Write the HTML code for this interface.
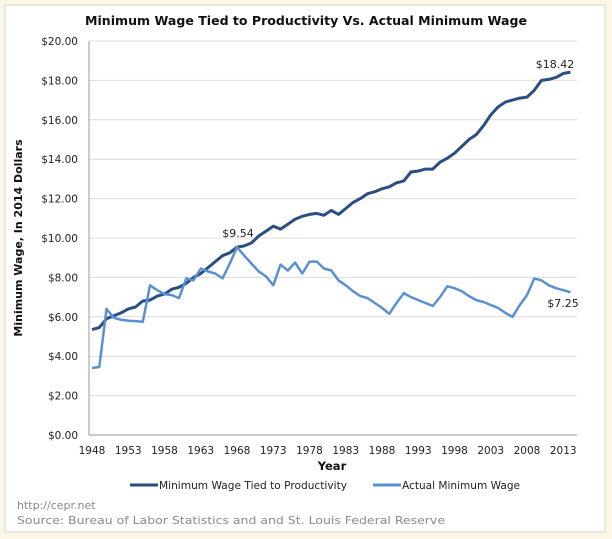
<!DOCTYPE html>
<html><head><meta charset="utf-8"><style>
body{margin:0;background:#fbf6e6;}
svg{display:block;font-family:"DejaVu Sans",Verdana,sans-serif;}
</style></head><body>
<svg id="s" width="612" height="539" xmlns="http://www.w3.org/2000/svg">
<rect x="5" y="5" width="600" height="527" fill="#fff" stroke="#d8d4c8"/>
<text x="306" y="25" text-anchor="middle" font-size="12.5" font-weight="bold" fill="#111" textLength="442" lengthAdjust="spacingAndGlyphs">Minimum Wage Tied to Productivity Vs. Actual Minimum Wage</text>
<g id="grid" stroke="#dcdcdc" stroke-width="1"></g>
<line x1="89" y1="41" x2="89" y2="435" stroke="#999"/>
<line x1="89" y1="435" x2="577" y2="435" stroke="#999"/>
<g id="yl" font-size="10.5" fill="#222" text-anchor="end"></g>
<g id="xl" font-size="10.5" fill="#222" text-anchor="middle"></g>
<text x="332" y="470" text-anchor="middle" font-size="11.5" font-weight="bold" fill="#111">Year</text>
<text transform="translate(22,238) rotate(-90)" text-anchor="middle" font-size="11" font-weight="bold" fill="#111">Minimum Wage, In 2014 Dollars</text>
<path id="p1" fill="none" stroke="#2b4e80" stroke-width="3" stroke-linejoin="round"/>
<path id="p2" fill="none" stroke="#5a90d2" stroke-width="2.5" stroke-linejoin="round"/>
<text x="238" y="237" text-anchor="middle" font-size="11" fill="#222">$9.54</text>
<text x="555" y="68" text-anchor="middle" font-size="11" fill="#222">$18.42</text>
<text x="563" y="307" text-anchor="middle" font-size="11" fill="#222">$7.25</text>
<line x1="130" y1="485" x2="158" y2="485" stroke="#2b4e80" stroke-width="3"/>
<text x="159" y="489" font-size="10.5" fill="#222" textLength="188" lengthAdjust="spacingAndGlyphs">Minimum Wage Tied to Productivity</text>
<line x1="373" y1="485" x2="401" y2="485" stroke="#5a90d2" stroke-width="3"/>
<text x="402" y="489" font-size="10.5" fill="#222" textLength="118" lengthAdjust="spacingAndGlyphs">Actual Minimum Wage</text>
<text x="17" y="509" font-size="11" fill="#8a8a8a">http://cepr.net</text>
<text x="17" y="524" font-size="11" fill="#8a8a8a" textLength="428" lengthAdjust="spacingAndGlyphs">Source: Bureau of Labor Statistics and and St. Louis Federal Reserve</text>
</svg>
<script>
var ns="http://www.w3.org/2000/svg";
function Y(v){return 435-v*19.7;}
function X(y){return 92+(y-1948)*7.25;}
var g=document.getElementById('grid'),yl=document.getElementById('yl'),xl=document.getElementById('xl');
for(var v=2;v<=20;v+=2){var l=document.createElementNS(ns,'line');l.setAttribute('x1',89);l.setAttribute('x2',577);l.setAttribute('y1',Y(v));l.setAttribute('y2',Y(v));g.appendChild(l);}
for(var v=0;v<=20;v+=2){var t=document.createElementNS(ns,'text');t.setAttribute('x',78);t.setAttribute('y',Y(v)+4);t.textContent='$'+v.toFixed(2);yl.appendChild(t);}
for(var yr=1948;yr<=2013;yr+=5){var t=document.createElementNS(ns,'text');t.setAttribute('x',X(yr));t.setAttribute('y',454);t.textContent=yr;xl.appendChild(t);}
var a=[5.35,5.45,5.9,6.05,6.2,6.4,6.5,6.8,6.85,7.05,7.15,7.4,7.5,7.7,8.0,8.2,8.5,8.8,9.1,9.25,9.54,9.6,9.75,10.1,10.35,10.6,10.45,10.7,10.95,11.1,11.2,11.25,11.15,11.4,11.2,11.5,11.8,12.0,12.25,12.35,12.5,12.6,12.8,12.9,13.35,13.4,13.5,13.5,13.85,14.05,14.3,14.65,15.0,15.25,15.7,16.25,16.65,16.9,17.0,17.1,17.15,17.5,18.0,18.05,18.15,18.35,18.42];
var b=[3.4,3.45,6.4,5.95,5.85,5.8,5.78,5.75,7.6,7.35,7.15,7.1,6.95,7.95,7.85,8.45,8.3,8.2,7.95,8.7,9.54,9.1,8.7,8.3,8.05,7.6,8.65,8.35,8.75,8.2,8.8,8.8,8.45,8.35,7.85,7.6,7.3,7.05,6.95,6.7,6.45,6.15,6.7,7.2,7.0,6.85,6.7,6.55,7.0,7.55,7.45,7.3,7.05,6.85,6.75,6.6,6.45,6.2,6.0,6.6,7.1,7.95,7.85,7.6,7.45,7.35,7.25];
function P(d){return d.map(function(v,i){return (i?'L':'M')+X(1948+i).toFixed(1)+' '+Y(v).toFixed(1);}).join(' ');}
document.getElementById('p1').setAttribute('d',P(a));
document.getElementById('p2').setAttribute('d',P(b));
</script>
</body></html>
